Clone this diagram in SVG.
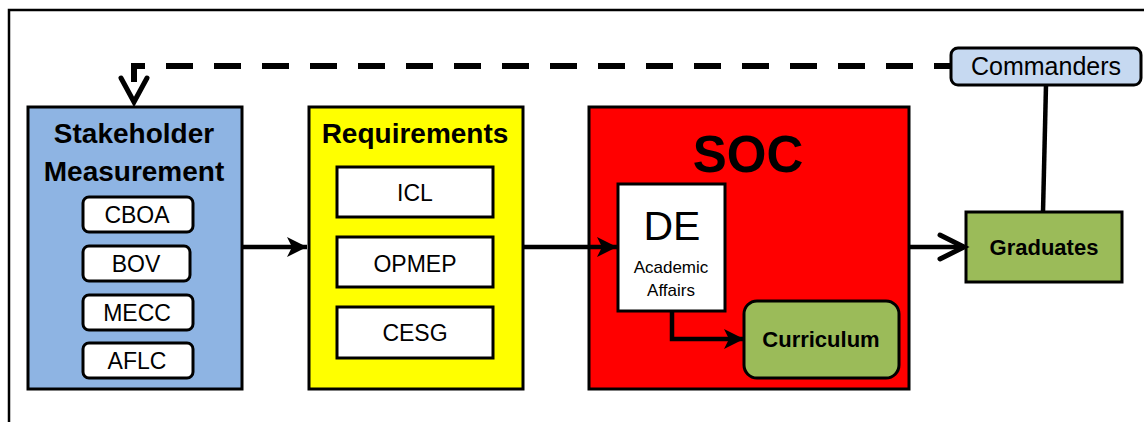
<svg xmlns="http://www.w3.org/2000/svg" width="1144" height="422" viewBox="0 0 1144 422">
<style>
.box{stroke:#000;stroke-width:3}
.t{font-family:"Liberation Sans",Arial,sans-serif;fill:#000;text-anchor:middle}
.b{font-weight:bold}
.conn{fill:none;stroke:#000;stroke-width:4.5}
.chev{fill:none;stroke:#000;stroke-width:5;stroke-linecap:round;stroke-linejoin:miter}
</style>
<defs>
<marker id="fill" markerUnits="userSpaceOnUse" markerWidth="22" markerHeight="22" refX="20" refY="10" orient="auto" overflow="visible">
<path d="M0,0 L20,10 L0,20 L5,10 Z" fill="#000"/>
</marker>
<marker id="open" markerUnits="userSpaceOnUse" markerWidth="30" markerHeight="30" refX="26" refY="14" orient="auto" overflow="visible">
<path d="M2,2 L26,14 L2,26" fill="none" stroke="#000" stroke-width="5" stroke-linecap="round" stroke-linejoin="miter"/>
</marker>
</defs>
<path d="M9,422 V10 H1144" fill="none" stroke="#000" stroke-width="2.5"/>
<g id="stakeholder">
<rect class="box" x="28" y="107" width="214" height="282" fill="#8EB4E3"/>
<text class="t b" x="134" y="143" font-size="28">Stakeholder</text>
<text class="t b" x="134" y="181" font-size="28">Measurement</text>
<rect class="box" x="83" y="197" width="110" height="35" rx="6" fill="#fff"/>
<text class="t" x="137" y="223" font-size="23">CBOA</text>
<rect class="box" x="83" y="246" width="107" height="35" rx="6" fill="#fff"/>
<text class="t" x="136" y="272" font-size="23">BOV</text>
<rect class="box" x="83" y="295" width="110" height="35" rx="6" fill="#fff"/>
<text class="t" x="137" y="321" font-size="23">MECC</text>
<rect class="box" x="83" y="343" width="110" height="35" rx="6" fill="#fff"/>
<text class="t" x="137" y="369" font-size="23">AFLC</text>
</g>
<g id="requirements">
<rect class="box" x="309" y="107" width="214" height="282" fill="#FFFF00"/>
<text class="t b" x="415" y="143" font-size="28">Requirements</text>
<rect class="box" x="337" y="167" width="156" height="50" fill="#fff"/>
<text class="t" x="415" y="201" font-size="23">ICL</text>
<rect class="box" x="337" y="237" width="156" height="50" fill="#fff"/>
<text class="t" x="415" y="272" font-size="23">OPMEP</text>
<rect class="box" x="337" y="307" width="156" height="51" fill="#fff"/>
<text class="t" x="415" y="341" font-size="23">CESG</text>
</g>
<g id="soc">
<rect class="box" x="589" y="107" width="320" height="282" fill="#FF0000"/>
<text class="t b" x="748" y="172" font-size="51">SOC</text>
</g>
<g id="de">
<rect class="box" x="618" y="184" width="107" height="127" fill="#fff"/>
<text class="t" x="672" y="240" font-size="41">DE</text>
<text class="t" x="671" y="273" font-size="17">Academic</text>
<text class="t" x="671" y="296" font-size="17">Affairs</text>
</g>
<g id="curriculum">
<rect class="box" x="744" y="301" width="155" height="77" rx="13" fill="#9BBB59"/>
<text class="t b" x="821" y="347" font-size="22">Curriculum</text>
</g>
<g id="graduates">
<rect class="box" x="966" y="212" width="156" height="70" fill="#9BBB59"/>
<text class="t b" x="1044" y="255" font-size="22">Graduates</text>
</g>
<g id="commanders">
<rect class="box" x="951" y="48" width="190" height="37" rx="7" fill="#C6D9F1"/>
<text class="t" x="1046" y="75" font-size="25">Commanders</text>
</g>
<g id="connectors">
<path class="conn" d="M242,247 H307" marker-end="url(#fill)"/>
<path class="conn" d="M523,247 H617" marker-end="url(#fill)"/>
<path class="conn" d="M672,311 V339 H744" marker-end="url(#fill)"/>
<path class="conn" d="M909,247 H964" marker-end="url(#open)"/>
<path class="conn" d="M1046,85 L1043,212"/>
<path d="M134,82 V66 H951" fill="none" stroke="#000" stroke-width="6" stroke-dasharray="27,21"/>
<path class="chev" d="M121,78 L134,102 L147,78"/>
</g>
</svg>
